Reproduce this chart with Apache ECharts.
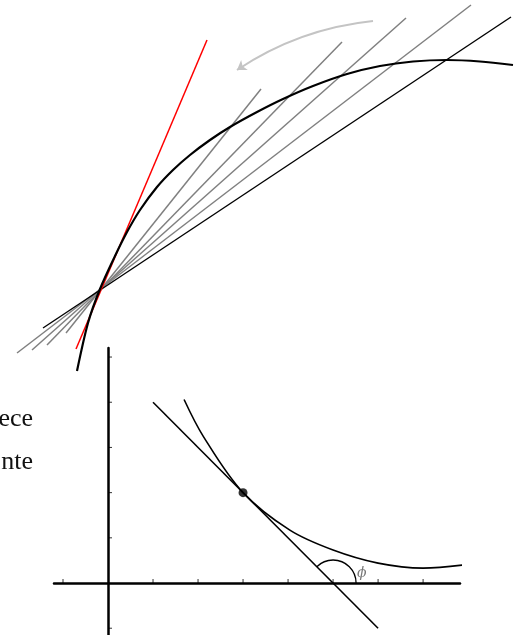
<!DOCTYPE html>
<html>
<head>
<meta charset="utf-8">
<script src="https://cdn.jsdelivr.net/npm/echarts@6/dist/echarts.min.js"></script>
<style>html,body{margin:0;padding:0;background:#fff}#c{width:526px;height:635px}</style>
</head>
<body>
<div id="c"></div>
<script>
// ---------- Top diagram (secants approaching the tangent) ----------
const topCurve = [[-0.23,-0.82],[-0.12,-0.34],[0,0],[0.15,0.33],[0.27,0.57],[0.40,0.79],[0.57,1.02],[0.73,1.19],[0.90,1.34],[1.10,1.49],[1.30,1.62],[1.57,1.77],[1.83,1.90],[2.13,2.03],[2.47,2.15],[2.80,2.23],[3.13,2.275],[3.47,2.29],[3.80,2.275],[4.13,2.24]];
const secantGrey1 = [[-0.34,-0.44],[1.61,2.00]];
const secantGrey2 = [[-0.53,-0.56],[2.42,2.47]];
const secantGrey3 = [[-0.68,-0.61],[3.06,2.71]];
const secantGrey4 = [[-0.83,-0.64],[3.71,2.84]];
const secantBlack = [[-0.57,-0.39],[4.11,2.72]];
const tangentRed  = [[-0.24,-0.60],[1.07,2.49]];
const arrowArc    = [[2.73,2.68],[1.37,2.19]];

// ---------- Bottom diagram (tangent angle phi) ----------
const bottomCurve = [[1.69,4.06],[2.12,3.24],[3,2],[4.04,1.17],[5.0,0.73],[6.0,0.44],[7.0,0.33],[7.99,0.41]];
const tangentLine = [[1,4],[6,-1]];
const touchPoint  = [[3,2]];
const angleVertex = [[5,0]];
const phiLabelPos = [[5.64,0.22]];
const phiLabel    = 'ϕ';
const xTicks = [-1,1,2,3,4,5,6,7];
const yTicks = [-1,1,2,3,4,5];
const sideText = ['ece','nte'];

const chart = echarts.init(document.getElementById('c'), null, {renderer:'canvas'});

function seg(data, color, width, z) {
  return {type:'line', xAxisIndex:0, yAxisIndex:0, data:data, showSymbol:false, symbol:'none',
    silent:true, clip:false, z:z||2, lineStyle:{color:color, width:width}};
}

const option = {
  animation:false,
  backgroundColor:'#ffffff',
  grid:[
    {left:0, top:0, width:526, height:380},
    {left:54, top:348, width:406, height:287}
  ],
  xAxis:[
    {gridIndex:0, type:'value', min:-1.0, max:4.26, show:false},
    {gridIndex:1, type:'value', min:-1.2, max:7.82,
      axisLine:{show:true, onZero:true, lineStyle:{color:'#000', width:2.5}},
      axisTick:{show:false}, axisLabel:{show:false}, splitLine:{show:false}}
  ],
  yAxis:[
    {gridIndex:0, type:'value', min:-0.91, max:2.89, show:false},
    {gridIndex:1, type:'value', min:-1.15, max:5.2,
      axisLine:{show:true, onZero:true, lineStyle:{color:'#000', width:2.5}},
      axisTick:{show:false}, axisLabel:{show:false}, splitLine:{show:false}}
  ],
  graphic:[
    {type:'text', x:33, y:432, style:{text:sideText[0], align:'right', verticalAlign:'bottom', font:'26px "Liberation Serif", serif', fill:'#111'}},
    {type:'text', x:33, y:475, style:{text:sideText[1], align:'right', verticalAlign:'bottom', font:'26px "Liberation Serif", serif', fill:'#111'}}
  ],
  series:[
    seg(secantGrey1, '#808080', 1.5),
    seg(secantGrey2, '#808080', 1.5),
    seg(secantGrey3, '#808080', 1.5),
    seg(secantGrey4, '#808080', 1.5),
    seg(secantBlack, '#000000', 1.4),
    seg(tangentRed, '#ff0000', 1.5),
    {type:'line', xAxisIndex:0, yAxisIndex:0, data:topCurve, smooth:0.3, showSymbol:false, symbol:'none',
      silent:true, clip:false, z:3, lineStyle:{color:'#000', width:2.2}},
    {type:'lines', coordinateSystem:'cartesian2d', xAxisIndex:0, yAxisIndex:0, silent:true,
      symbol:['none','arrow'], symbolSize:9,
      lineStyle:{color:'#c4c4c4', width:2, curveness:-0.124, opacity:1},
      data:[{coords:arrowArc}]},

    {type:'line', xAxisIndex:1, yAxisIndex:1, data:tangentLine, showSymbol:false, symbol:'none',
      silent:true, clip:false, lineStyle:{color:'#000', width:1.6}},
    {type:'line', xAxisIndex:1, yAxisIndex:1, data:bottomCurve, smooth:0.35, showSymbol:false, symbol:'none',
      silent:true, clip:false, lineStyle:{color:'#000', width:1.6}},
    {type:'scatter', xAxisIndex:1, yAxisIndex:1, data:touchPoint, symbol:'circle', symbolSize:9,
      silent:true, itemStyle:{color:'#000'}, z:5},
    {type:'scatter', xAxisIndex:1, yAxisIndex:1, data:xTicks.map(v=>[v,0]), symbol:'rect',
      symbolSize:[1,4], symbolOffset:[0,-2], silent:true, itemStyle:{color:'#000'}, z:4},
    {type:'scatter', xAxisIndex:1, yAxisIndex:1, data:yTicks.map(v=>[0,v]), symbol:'rect',
      symbolSize:[4,1], symbolOffset:[2,0], silent:true, itemStyle:{color:'#000'}, z:4},
    {type:'custom', xAxisIndex:1, yAxisIndex:1, data:angleVertex, silent:true, clip:false,
      renderItem:function(params, api){
        const c = api.coord([api.value(0), api.value(1)]);
        return {type:'arc', shape:{cx:c[0], cy:c[1], r:23, startAngle:-3*Math.PI/4, endAngle:0, clockwise:true},
          style:{stroke:'#000', fill:'none', lineWidth:1.3}};
      }},
    {type:'scatter', xAxisIndex:1, yAxisIndex:1, data:phiLabelPos, symbolSize:0, silent:true,
      label:{show:true, position:'inside', formatter:phiLabel, fontSize:14, fontStyle:'italic',
        fontFamily:'"DejaVu Serif", serif', color:'#555'}}
  ]
};
chart.setOption(option);
</script>
</body>
</html>
